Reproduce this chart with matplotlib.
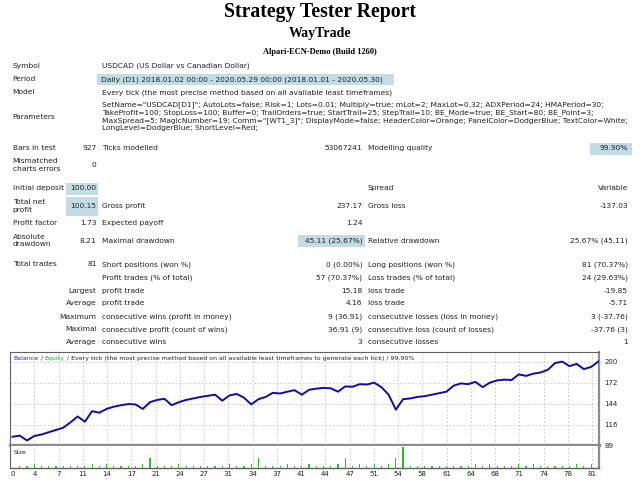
import numpy as np
import matplotlib
matplotlib.use("Agg")
from matplotlib import pyplot as plt
from matplotlib.patches import Rectangle

# ---------------- report data ----------------
TITLE = "Strategy Tester Report"
EXPERT = "WayTrade"
SERVER = "Alpari-ECN-Demo (Build 1260)"

SYMBOL = "USDCAD (US Dollar vs Canadian Dollar)"
PERIOD = "Daily (D1) 2018.01.02 00:00 - 2020.05.29 00:00 (2018.01.01 - 2020.05.30)"
MODEL = "Every tick (the most precise method based on all available least timeframes)"
PARAMS = [
    'SetName="USDCAD[D1]"; AutoLots=false; Risk=1; Lots=0.01; Multiply=true; mLot=2; MaxLot=0.32; ADXPeriod=24; HMAPeriod=30;',
    "TakeProfit=100; StopLoss=100; Buffer=0; TrailOrders=true; StartTrail=25; StepTrail=10; BE_Mode=true; BE_Start=80; BE_Point=3;",
    'MaxSpread=5; MagicNumber=19; Comm="[WT1_3]"; DisplayMode=false; HeaderColor=Orange; PanelColor=DodgerBlue; TextColor=White;',
    "LongLevel=DodgerBlue; ShortLevel=Red;",
]

LABELS_1 = ["Bars in test", "Mismatched\ncharts errors", "Initial deposit", "Total net\nprofit",
            "Profit factor", "Absolute\ndrawdown", "Total trades", "", "", "", "", "", ""]
VALUES_1 = ["927", "0", "100.00", "100.15", "1.73", "8.21", "81", "",
            "Largest", "Average", "Maximum", "Maximal", "Average"]
LABELS_2 = ["Ticks modelled", "", "", "Gross profit", "Expected payoff", "Maximal drawdown",
            "Short positions (won %)", "Profit trades (% of total)", "profit trade", "profit trade",
            "consecutive wins (profit in money)", "consecutive profit (count of wins)", "consecutive wins"]
VALUES_2 = ["53067241", "", "", "237.17", "1.24", "45.11 (25.67%)", "0 (0.00%)", "57 (70.37%)",
            "15.18", "4.16", "9 (36.91)", "36.91 (9)", "3"]
LABELS_3 = ["Modelling quality", "", "Spread", "Gross loss", "", "Relative drawdown",
            "Long positions (won %)", "Loss trades (% of total)", "loss trade", "loss trade",
            "consecutive losses (loss in money)", "consecutive loss (count of losses)", "consecutive losses"]
VALUES_3 = ["99.90%", "", "Variable", "-137.03", "", "25.67% (45.11)", "81 (70.37%)", "24 (29.63%)",
            "-19.85", "-5.71", "3 (-37.76)", "-37.76 (3)", "1"]

# balance after each trade (trade 0 = initial deposit)
BALANCE = [100, 101.5, 95, 101, 103, 106, 109, 112, 119, 127,
           120, 134, 132, 137, 140, 142, 143.5, 143, 137, 146,
           149, 150.5, 142, 146, 149, 151, 153, 154.5, 156, 148,
           155, 157, 152, 143, 150, 153, 158.5, 157.5, 160, 162,
           156, 162.5, 164, 165, 164.5, 160, 167, 166.5, 170, 169.5,
           172, 166, 156, 136, 150, 151, 153, 154, 156, 158,
           160, 168, 171, 170, 173, 166, 172, 175, 176, 175.5,
           183, 181, 184, 185.5, 189, 198, 200, 194, 197, 190,
           193, 200.15]

# lot size of trades 1..81
LOTS = [0.01, 0.01, 0.02, 0.01, 0.01, 0.01, 0.01, 0.01, 0.01, 0.01,
        0.02, 0.01, 0.02, 0.01, 0.01, 0.01, 0.01, 0.02, 0.04, 0.01,
        0.01, 0.01, 0.02, 0.01, 0.01, 0.01, 0.01, 0.01, 0.01, 0.02,
        0.01, 0.01, 0.02, 0.04, 0.01, 0.01, 0.01, 0.02, 0.01, 0.01,
        0.02, 0.01, 0.01, 0.01, 0.02, 0.04, 0.01, 0.02, 0.01, 0.02,
        0.01, 0.02, 0.04, 0.08, 0.01, 0.01, 0.01, 0.01, 0.01, 0.01,
        0.01, 0.01, 0.01, 0.02, 0.01, 0.02, 0.01, 0.01, 0.01, 0.02,
        0.01, 0.02, 0.01, 0.01, 0.01, 0.01, 0.01, 0.02, 0.01, 0.02,
        0.01]

X_LABELS = ["0", "4", "7", "11", "14", "17", "21", "24", "27", "31", "34", "37", "41",
            "44", "47", "51", "54", "58", "61", "64", "68", "71", "74", "78", "81"]
Y_TICKS = [89, 116, 144, 172, 200]

LEGEND_REST = " / Every tick (the most precise method based on all available least timeframes to generate each tick) / 99.90%"

# ---------------- layout (pixels from top-left) ----------------
ROW_Y = [148.3, 165, 188.3, 205.8, 223.3, 240.7, 264.5, 277.3, 290.7, 303.3, 316.7, 329.3, 341.7]
X_LAB1, X_VAL1, X_LAB2, X_VAL2, X_LAB3, X_VAL3 = 12.7, 96.5, 102, 362.5, 367.5, 628
HILITE = [(96.5, 73.5, 394, 85), (590, 142.5, 632, 154.5), (65.5, 182.5, 98, 195),
          (65.5, 197, 98, 215.5), (298, 234.5, 364.5, 247)]

TXT = "#222222"
BOX = "#c3dce6"
FS = 5.4

plt.rcParams['font.family'] = ['DejaVu Sans']
fig = plt.figure(figsize=(6.4, 4.8), dpi=100)

bg = fig.add_axes([0, 0, 1, 1])
bg.set_xlim(0, 640)
bg.set_ylim(480, 0)
bg.axis("off")


def put(x, y, s, ha="left", **kw):
    kw.setdefault("fontsize", FS)
    kw.setdefault("color", TXT)
    bg.text(x, y, s, ha=ha, va="center", linespacing=1.3, **kw)


for x0, y0, x1, y1 in HILITE:
    bg.add_patch(Rectangle((x0, y0), x1 - x0, y1 - y0, facecolor=BOX, edgecolor="none"))

serif = ["Liberation Serif", "DejaVu Serif"]
put(320, 12.5, TITLE, ha="center", fontsize=14.2, fontweight="bold", family=serif, color="black")
put(320, 33, EXPERT, ha="center", fontsize=10, fontweight="bold", family=serif, color="black")
put(320, 51.5, SERVER, ha="center", fontsize=6.0, fontweight="bold", family=serif, color="black")

put(X_LAB1, 66, "Symbol")
put(X_LAB2, 66, SYMBOL)
put(X_LAB1, 79.3, "Period")
put(X_LAB2 - 1, 79.3, PERIOD)
put(X_LAB1, 92.3, "Model")
put(X_LAB2, 92.3, MODEL)
put(X_LAB1, 117, "Parameters")
for k, line in enumerate(PARAMS):
    put(X_LAB2, 105 + k * 7.6, line)

for y, l1, v1, l2, v2, l3, v3 in zip(ROW_Y, LABELS_1, VALUES_1, LABELS_2, VALUES_2, LABELS_3, VALUES_3):
    put(X_LAB1, y, l1)
    put(X_VAL1, y, v1, ha="right")
    put(X_LAB2, y, l2)
    put(X_VAL2, y, v2, ha="right")
    put(X_LAB3, y, l3)
    put(X_VAL3, y, v3, ha="right")

# ---------------- balance chart ----------------
W, H = 640.0, 480.0
left, right = 10, 599
ax = fig.add_axes([left / W, 1 - 445 / H, (right - left) / W, (445 - 352) / H])
sz = fig.add_axes([left / W, 1 - 468 / H, (right - left) / W, (468 - 446) / H])

trades = np.arange(len(BALANCE))
x_lo, x_hi = -0.35, 81.09
grid_x = np.linspace(-0.33, 80.14, len(X_LABELS))

ax.plot(trades, BALANCE, color="#0c0cb0", lw=1.4, solid_joinstyle="round", zorder=3)
ax.set_xlim(x_lo, x_hi)
ax.set_ylim(89, 212.8)
ax.set_xticks(grid_x)
ax.set_xticklabels([])
ax.yaxis.tick_right()
ax.set_yticks(Y_TICKS)
ax.set_yticklabels([str(v) for v in Y_TICKS])
ax.tick_params(axis="both", length=0, labelsize=5, colors=TXT, pad=4)
ax.grid(color="#c4c4c4", linestyle=(0, (2, 2.5)), lw=0.6)
for s in ("left", "top"):
    ax.spines[s].set_color("#606060")
    ax.spines[s].set_linewidth(0.8)
ax.spines["right"].set_color("#8c8c8c")
ax.spines["right"].set_linewidth(1.6)
ax.spines["bottom"].set_color("#8c8c8c")
ax.spines["bottom"].set_linewidth(2.4)

LFS = 4.5
t = ax.text(0.006, 0.935, "Balance", transform=ax.transAxes, fontsize=LFS, color="#2020c0", va="center")
t = ax.annotate(" / ", xy=(1, 0), xycoords=t, va="bottom", fontsize=LFS, color=TXT)
t = ax.annotate("Equity", xy=(1, 0), xycoords=t, va="bottom", fontsize=LFS, color="#10b010")
ax.annotate(LEGEND_REST, xy=(1, 0), xycoords=t, va="bottom", fontsize=LFS, color=TXT)

sz.bar(trades[1:], LOTS, width=0.16, color="#22c422", zorder=3)
sz.set_xlim(x_lo, x_hi)
sz.set_ylim(0.004, 0.085)
sz.set_yticks([])
sz.set_xticks(grid_x)
sz.set_xticklabels(X_LABELS)
sz.tick_params(axis="x", length=0, labelsize=5, colors=TXT, pad=2.5)
sz.get_xticklabels()[0].set_horizontalalignment("left")
sz.grid(axis="x", color="#c4c4c4", linestyle=(0, (2, 2.5)), lw=0.6)
sz.text(0.006, 0.72, "Size", transform=sz.transAxes, fontsize=LFS, color=TXT, va="center")
sz.spines["left"].set_color("#606060")
sz.spines["left"].set_linewidth(0.8)
sz.spines["top"].set_visible(False)
sz.spines["right"].set_color("#8c8c8c")
sz.spines["right"].set_linewidth(1.6)
sz.spines["bottom"].set_color("#606060")
sz.spines["bottom"].set_linewidth(1.0)

fig.savefig("out.png", dpi=100)
